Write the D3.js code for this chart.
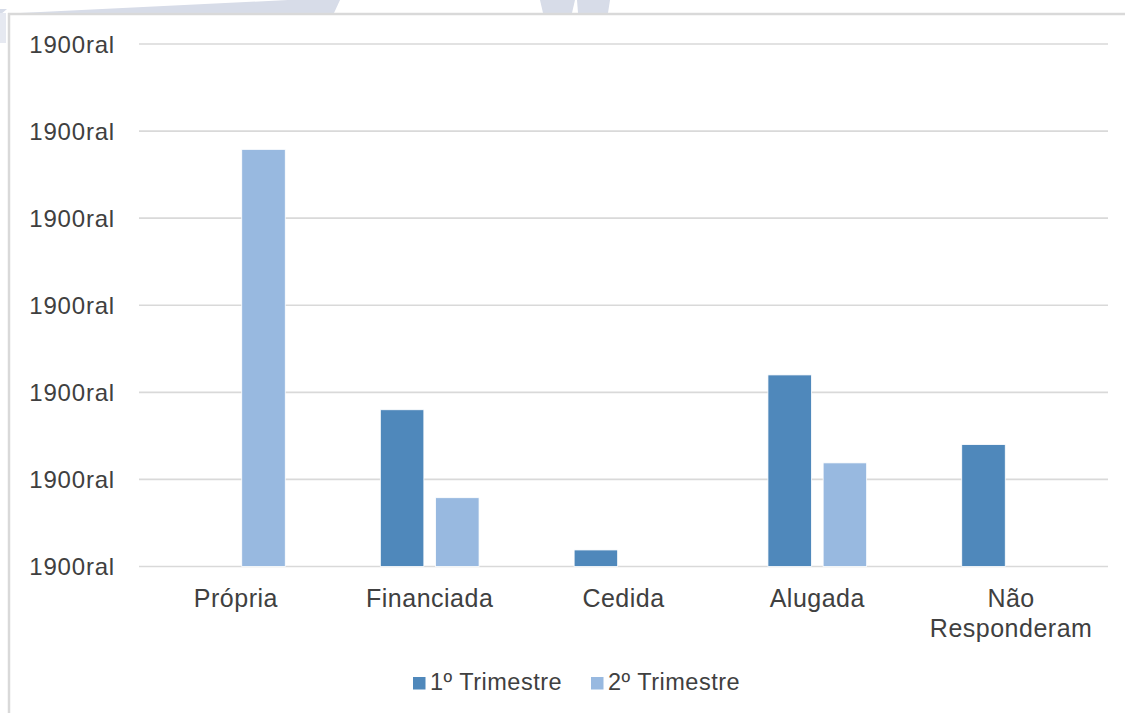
<!DOCTYPE html>
<html>
<head>
<meta charset="utf-8">
<script src="https://cdn.jsdelivr.net/npm/d3@7"></script>
<style>
  html, body { margin: 0; padding: 0; background: #ffffff; }
  svg { display: block; font-family: "Liberation Sans", Arial, sans-serif; }
</style>
</head>
<body>
<svg id="chart" width="1125" height="713"></svg>
<script>
// ---- data ----
const categories = ["Própria", "Financiada", "Cedida", "Alugada", "Não\nResponderam"];
const seriesNames = ["1º Trimestre", "2º Trimestre"];
const values1 = [0, 1.80, 0.19, 2.20, 1.40];   // 1º Trimestre
const values2 = [4.79, 0.79, 0, 1.19, 0];      // 2º Trimestre
const yTicks = [0, 1, 2, 3, 4, 5, 6];
const yTickLabels = ["1900ral", "1900ral", "1900ral", "1900ral", "1900ral", "1900ral", "1900ral"];
const colors = ["#4f88bb", "#98b9e0"];

const svg = d3.select("#chart");

// watermark shapes above the frame
const wm = "#d7dce8";
[
  [[0,9],[7,9],[0,15]],
  [[20,13],[288,0],[340,0],[334,13]],
  [[540,0],[575,0],[572,13],[543,13]],
  [[577,0],[610,0],[608,13],[578,13]]
].forEach(p => svg.append("polygon").attr("points", p.map(d => d.join(",")).join(" ")).attr("fill", wm));
svg.append("rect").attr("x", 0).attr("y", 13).attr("width", 6).attr("height", 30).attr("fill", "#e6e9f1");

// frame
svg.append("line").attr("x1", 8).attr("x2", 1125).attr("y1", 14).attr("y2", 14)
  .attr("stroke", "#d9d9d9").attr("stroke-width", 2.5);
svg.append("line").attr("x1", 9).attr("x2", 9).attr("y1", 13).attr("y2", 713)
  .attr("stroke", "#d9d9d9").attr("stroke-width", 2.5);

// scales
const x0 = d3.scaleBand().domain(categories).range([139, 1108]).paddingInner(0).paddingOuter(0);
const x1 = d3.scaleBand().domain(seriesNames).range([0, x0.bandwidth()])
  .paddingInner(0.2116).paddingOuter(0.861);
const y = d3.scaleLinear().domain([0, 6]).range([566.5, 44]);

// gridlines
svg.append("g").selectAll("line").data(yTicks).join("line")
  .attr("x1", 139).attr("x2", 1108)
  .attr("y1", d => y(d)).attr("y2", d => y(d))
  .attr("stroke", "#d9d9d9").attr("stroke-width", 1.6);

// y axis labels
svg.append("g").selectAll("text").data(yTicks).join("text")
  .attr("x", 115).attr("y", d => y(d))
  .attr("text-anchor", "end").attr("dominant-baseline", "central")
  .attr("font-size", 24).attr("letter-spacing", 0.8).attr("fill", "#404040")
  .text((d, i) => yTickLabels[i]);

// bars
const seriesVals = [values1, values2];
seriesNames.forEach((s, si) => {
  svg.append("g").selectAll("rect").data(categories.map((c, i) => ({ c, v: seriesVals[si][i] })))
    .join("rect")
    .filter(d => d.v > 0)
    .attr("x", d => x0(d.c) + x1(s))
    .attr("width", x1.bandwidth())
    .attr("y", d => y(d.v))
    .attr("height", d => y(0) - y(d.v))
    .attr("fill", colors[si])
    .attr("stroke", "#ffffff").attr("stroke-width", 0.8);
});

// category labels
const catG = svg.append("g");
categories.forEach(c => {
  const lines = c.split("\n");
  const t = catG.append("text")
    .attr("x", x0(c) + x0.bandwidth() / 2).attr("y", 607)
    .attr("text-anchor", "middle").attr("font-size", 25).attr("letter-spacing", 0.5)
    .attr("fill", "#404040");
  lines.forEach((l, li) => {
    t.append("tspan").attr("x", x0(c) + x0.bandwidth() / 2).attr("dy", li === 0 ? 0 : 30).text(l);
  });
});

// legend
const legendX = [413, 591];
const lg = svg.append("g");
seriesNames.forEach((s, i) => {
  lg.append("rect").attr("x", legendX[i]).attr("y", 677).attr("width", 12.5).attr("height", 12.5)
    .attr("fill", colors[i]);
  lg.append("text").attr("x", legendX[i] + 17).attr("y", 690)
    .attr("font-size", 23.5).attr("letter-spacing", 0.5).attr("fill", "#404040").text(s);
});
</script>
</body>
</html>
